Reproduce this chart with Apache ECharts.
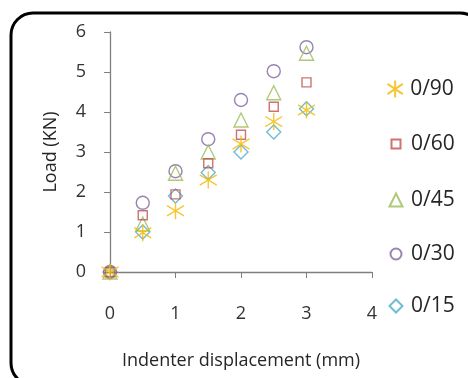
<!DOCTYPE html>
<html><head><meta charset="utf-8">
<script src="https://cdn.jsdelivr.net/npm/echarts@6/dist/echarts.min.js"></script>
<style>html,body{margin:0;padding:0;background:#fff}#c{width:468px;height:378px}</style>
</head><body><div id="c"></div>
<script>
const xValues = [0, 0.5, 1, 1.5, 2, 2.5, 3];
const seriesNames = ['0/90', '0/60', '0/45', '0/30', '0/15'];
const s090 = [0, 0.98, 1.53, 2.3, 3.2, 3.76, 4.05];
const s060 = [0, 1.42, 1.94, 2.72, 3.43, 4.13, 4.74];
const s045 = [0, 1.2, 2.47, 3.0, 3.8, 4.48, 5.47];
const s030 = [0, 1.73, 2.52, 3.32, 4.3, 5.02, 5.62];
const s015 = [0, 1.0, 1.9, 2.49, 3.0, 3.5, 4.08];
const xTicks = [0, 1, 2, 3, 4];
const yTicks = [0, 1, 2, 3, 4, 5, 6];

const values = [s090, s060, s045, s030, s015];
const colors = ['#F5B800', '#C0504D', '#9BBB59', '#8064A2', '#4BACC6'];
const symbols = ['path://M10,0L10,20M1,4L19,16M1,16L19,4', 'rect', 'triangle', 'circle', 'diamond'];
const sizes = [17, 9, 14, 13, 14];
const legendSizes = [17, 9, 13, 11, 13];
const legendTops = [84, 139, 195, 249, 301];

const font = 'Open Sans, Noto Sans, sans-serif';
const chart = echarts.init(document.getElementById('c'));
chart.setOption({
  animation: false,
  graphic: [{
    type: 'rect', shape: { x: 11, y: 13, width: 471, height: 372, r: 22 },
    style: { fill: 'none', stroke: '#000', lineWidth: 3 }, z: -1
  }],
  grid: { left: 110, right: 96, top: 32, bottom: 106 },
  legend: seriesNames.map((n, i) => ({
    orient: 'vertical', left: 390 - legendSizes[i] / 2, top: legendTops[i] - 14,
    itemWidth: legendSizes[i], itemHeight: legendSizes[i], itemGap: 0,
    data: [n],
    textStyle: { fontFamily: font, fontSize: 21, color: '#262626', lineHeight: 28,
      padding: [0, 0, 0, 10 - legendSizes[i] / 2] }
  })),
  xAxis: {
    type: 'value', min: 0, max: 4, interval: 1,
    name: 'Indenter displacement (mm)', nameLocation: 'middle', nameGap: 80,
    nameTextStyle: { fontFamily: font, fontSize: 18, color: '#262626' },
    axisLine: { lineStyle: { color: '#7f7f7f', width: 1.3 } },
    axisTick: { show: true, length: 6, lineStyle: { color: '#7f7f7f' } },
    axisLabel: { fontFamily: font, fontSize: 18, color: '#333', margin: 33,
      formatter: v => xTicks.includes(v) ? String(v) : '' },
    splitLine: { show: false }
  },
  yAxis: {
    type: 'value', min: 0, max: 6, interval: 1,
    name: 'Load (KN)', nameLocation: 'middle', nameGap: 50,
    nameTextStyle: { fontFamily: font, fontSize: 18, color: '#262626' },
    axisLine: { show: true, lineStyle: { color: '#7f7f7f', width: 1.3 } },
    axisTick: { show: true, length: 6, lineStyle: { color: '#7f7f7f' } },
    axisLabel: { fontFamily: font, fontSize: 18, color: '#333', margin: 24,
      formatter: v => yTicks.includes(v) ? String(v) : '' },
    splitLine: { show: false }
  },
  series: seriesNames.map((n, i) => ({
    name: n, type: 'scatter', symbol: symbols[i], symbolSize: sizes[i],
    data: xValues.map((x, j) => [x, values[i][j]]),
    itemStyle: { color: 'rgba(255,255,255,0)', borderColor: colors[i], borderWidth: 1.4 },
    z: 5 - i
  }))
});
</script></body></html>
